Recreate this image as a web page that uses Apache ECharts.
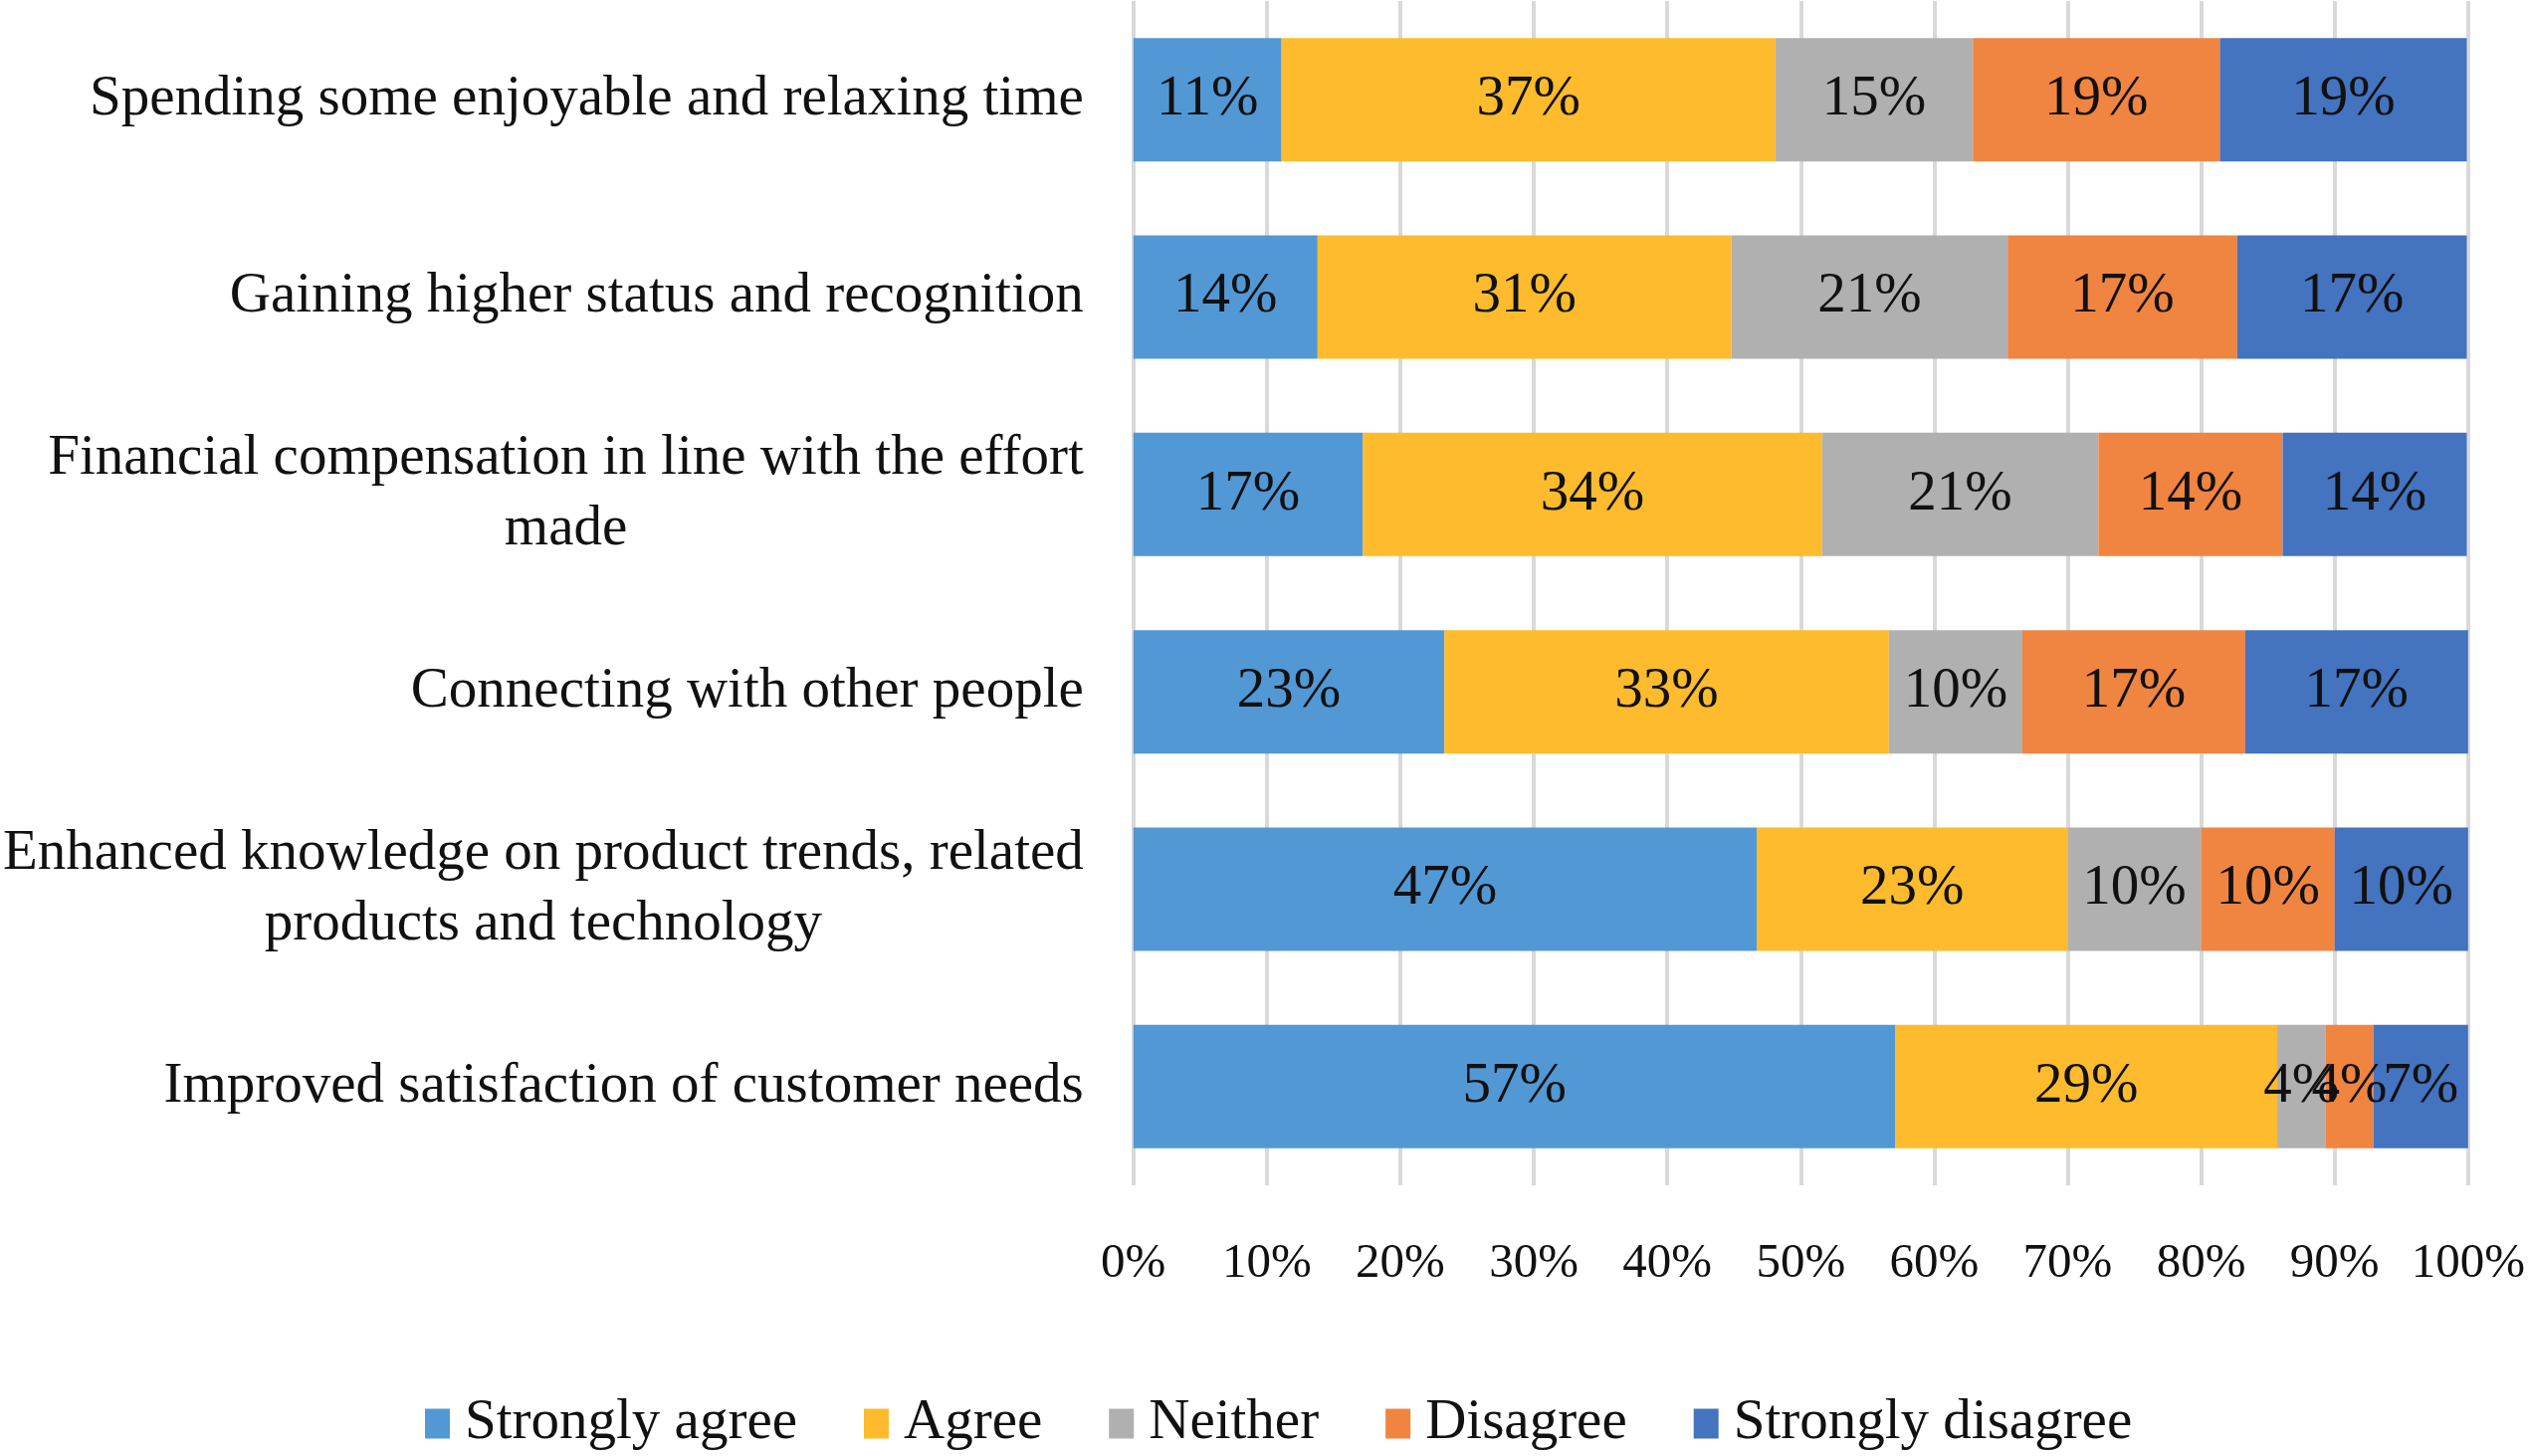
<!DOCTYPE html>
<html>
<head>
<meta charset="utf-8">
<script src="https://cdn.jsdelivr.net/npm/echarts@6/dist/echarts.min.js"></script>
<style>
html,body{margin:0;padding:0;background:#fff;}
#chart{width:2540px;height:1463px;}
</style>
</head>
<body>
<div id="chart"></div>
<script>
var categories = [
  "Spending some enjoyable and relaxing time",
  "Gaining higher status and recognition",
  "Financial compensation in line with the effort\nmade",
  "Connecting with other people",
  "Enhanced knowledge on product trends, related\nproducts and technology",
  "Improved satisfaction of customer needs"
];
var seriesNames = ["Strongly agree", "Agree", "Neither", "Disagree", "Strongly disagree"];
var stronglyAgree    = [11.1, 13.8, 17.2, 23.3, 46.7, 57.1];
var agree            = [37.0, 31.0, 34.4, 33.3, 23.3, 28.6];
var neither          = [14.8, 20.7, 20.7, 10.0, 10.0, 3.6];
var disagree         = [18.5, 17.2, 13.8, 16.7, 10.0, 3.6];
var stronglyDisagree = [18.5, 17.2, 13.8, 16.7, 10.0, 7.1];
var xTicks = [0, 10, 20, 30, 40, 50, 60, 70, 80, 90, 100];

var colors = ["#5298D4", "#FDBB2D", "#B0B0B0", "#F08441", "#4473BF"];
var values = [stronglyAgree, agree, neither, disagree, stronglyDisagree];
var FONT = "'Liberation Serif', 'Times New Roman', serif";

var chart = echarts.init(document.getElementById('chart'));
var series = seriesNames.map(function (name, i) {
  return {
    name: name,
    type: 'bar',
    stack: 'total',
    data: values[i],
    barWidth: 124,
    itemStyle: { color: colors[i] },
    label: {
      show: true,
      position: 'inside',
      color: '#111',
      fontFamily: FONT,
      fontSize: 57,
      formatter: function (p) { return Math.round(p.value) + '%'; }
    },
    emphasis: { disabled: true }
  };
});

chart.setOption({
  animation: false,
  backgroundColor: '#fff',
  grid: { left: 1138, right: 59, top: 1, bottom: 272, containLabel: false },
  xAxis: {
    type: 'value',
    min: xTicks[0],
    max: xTicks[xTicks.length - 1],
    interval: 10,
    axisLine: { show: false },
    axisTick: { show: false },
    splitLine: { show: true, lineStyle: { color: '#D9D9D9', width: 4 } },
    axisLabel: {
      margin: 55,
      color: '#111',
      fontFamily: FONT,
      fontSize: 49,
      formatter: function (v) { return v + '%'; }
    }
  },
  yAxis: {
    type: 'category',
    inverse: true,
    data: categories,
    axisLine: { show: false },
    axisTick: { show: false },
    axisLabel: {
      margin: 50,
      color: '#111',
      fontFamily: FONT,
      fontSize: 57,
      lineHeight: 71,
      align: 'right',
      formatter: function (v) {
        return v.split('\n').map(function (l) { return '{c|' + l + '}'; }).join('\n');
      },
      rich: {
        c: { align: 'center', fontFamily: FONT, fontSize: 57, lineHeight: 71, color: '#111' }
      }
    }
  },
  legend: {
    left: 422,
    top: 1397,
    icon: 'rect',
    itemWidth: 25,
    itemHeight: 30,
    itemGap: 67,
    selectedMode: false,
    textStyle: {
      color: '#111',
      fontFamily: FONT,
      fontSize: 57,
      padding: [0, 0, 0, 10]
    },
    data: seriesNames
  },
  series: series
});
</script>
</body>
</html>
